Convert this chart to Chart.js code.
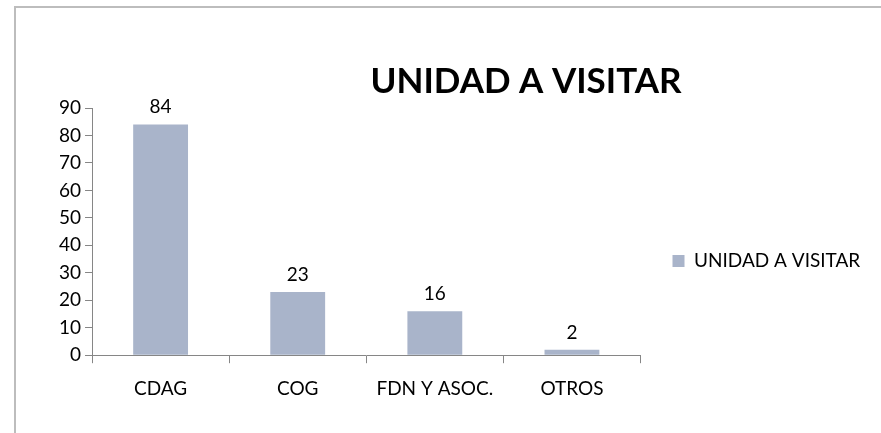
<!DOCTYPE html>
<html>
<head>
<meta charset="utf-8">
<script src="https://cdn.jsdelivr.net/npm/chart.js@4/dist/chart.umd.min.js"></script>
<style>
  html, body { margin: 0; padding: 0; background: #fff; overflow: hidden; width: 881px; height: 433px; }
  #frame { position: absolute; left: 14px; top: 6px; width: 2000px; height: 2000px;
           border-left: 2px solid #bdbdbd; border-top: 2px solid #bdbdbd; }
  #wrap { position: absolute; left: 0; top: 0; width: 881px; height: 433px; }
</style>
</head>
<body>
<div id="frame"></div>
<div id="wrap"><canvas id="chart" width="881" height="433"></canvas></div>
<script>
// datos
const categories = ['CDAG', 'COG', 'FDN Y ASOC.', 'OTROS'];
const visitas = [84, 23, 16, 2];
const yTicks = [0, 10, 20, 30, 40, 50, 60, 70, 80, 90];
const seriesName = 'UNIDAD A VISITAR';
const chartTitle = 'UNIDAD A VISITAR';

const FONT = 'Lato, "Open Sans", sans-serif';
const AXIS = '#868686';

// etiquetas de valor sobre las barras
const valueLabels = {
    id: 'valueLabels',
    afterDatasetsDraw(chart) {
        const ctx = chart.ctx;
        const meta = chart.getDatasetMeta(0);
        ctx.save();
        ctx.font = '19px ' + FONT;
        ctx.fillStyle = '#000';
        ctx.textAlign = 'center';
        ctx.textBaseline = 'alphabetic';
        meta.data.forEach((bar, i) => {
            ctx.fillText(String(visitas[i]), bar.x, bar.y - 11);
        });
        ctx.restore();
    }
};

// titulo desplazado a la derecha como en el original
const floatingTitle = {
    id: 'floatingTitle',
    afterDraw(chart) {
        const ctx = chart.ctx;
        ctx.save();
        ctx.font = 'bold 35px ' + FONT;
        ctx.fillStyle = '#000';
        ctx.textAlign = 'center';
        ctx.textBaseline = 'middle';
        ctx.fillText(chartTitle, 526, 82);
        ctx.restore();
    }
};

new Chart(document.getElementById('chart'), {
    type: 'bar',
    data: {
        labels: categories,
        datasets: [{
            label: seriesName,
            data: visitas,
            backgroundColor: '#a9b4ca',
            borderWidth: 0,
            barPercentage: 0.4,
            categoryPercentage: 1.0
        }]
    },
    options: {
        responsive: false,
        animation: false,
        layout: { padding: { left: 55, top: 108, right: 16, bottom: 19 } },
        plugins: {
            title: { display: false },
            tooltip: { enabled: false },
            legend: {
                position: 'right',
                labels: {
                    boxWidth: 12,
                    boxHeight: 12,
                    color: '#000',
                    font: { family: FONT, size: 19 }
                }
            }
        },
        scales: {
            x: {
                grid: { display: true, drawOnChartArea: false, drawTicks: true, tickLength: 8, color: AXIS, offset: true },
                border: { display: true, color: AXIS, width: 1 },
                ticks: { color: '#000', padding: 14, font: { family: FONT, size: 19 }, maxRotation: 0 }
            },
            y: {
                min: 0,
                max: 90,
                afterBuildTicks: axis => { axis.ticks = yTicks.map(v => ({ value: v })); },
                grid: { display: true, drawOnChartArea: false, drawTicks: true, tickLength: 7, color: AXIS },
                border: { display: true, color: AXIS, width: 1 },
                ticks: { color: '#000', padding: 4, font: { family: FONT, size: 19 } }
            },
            // espacio vacio entre el area del grafico y la leyenda
            gap: {
                position: 'right',
                display: false,
                afterFit: scale => { scale.width = 22; }
            }
        }
    },
    plugins: [valueLabels, floatingTitle]
});
</script>
</body>
</html>
